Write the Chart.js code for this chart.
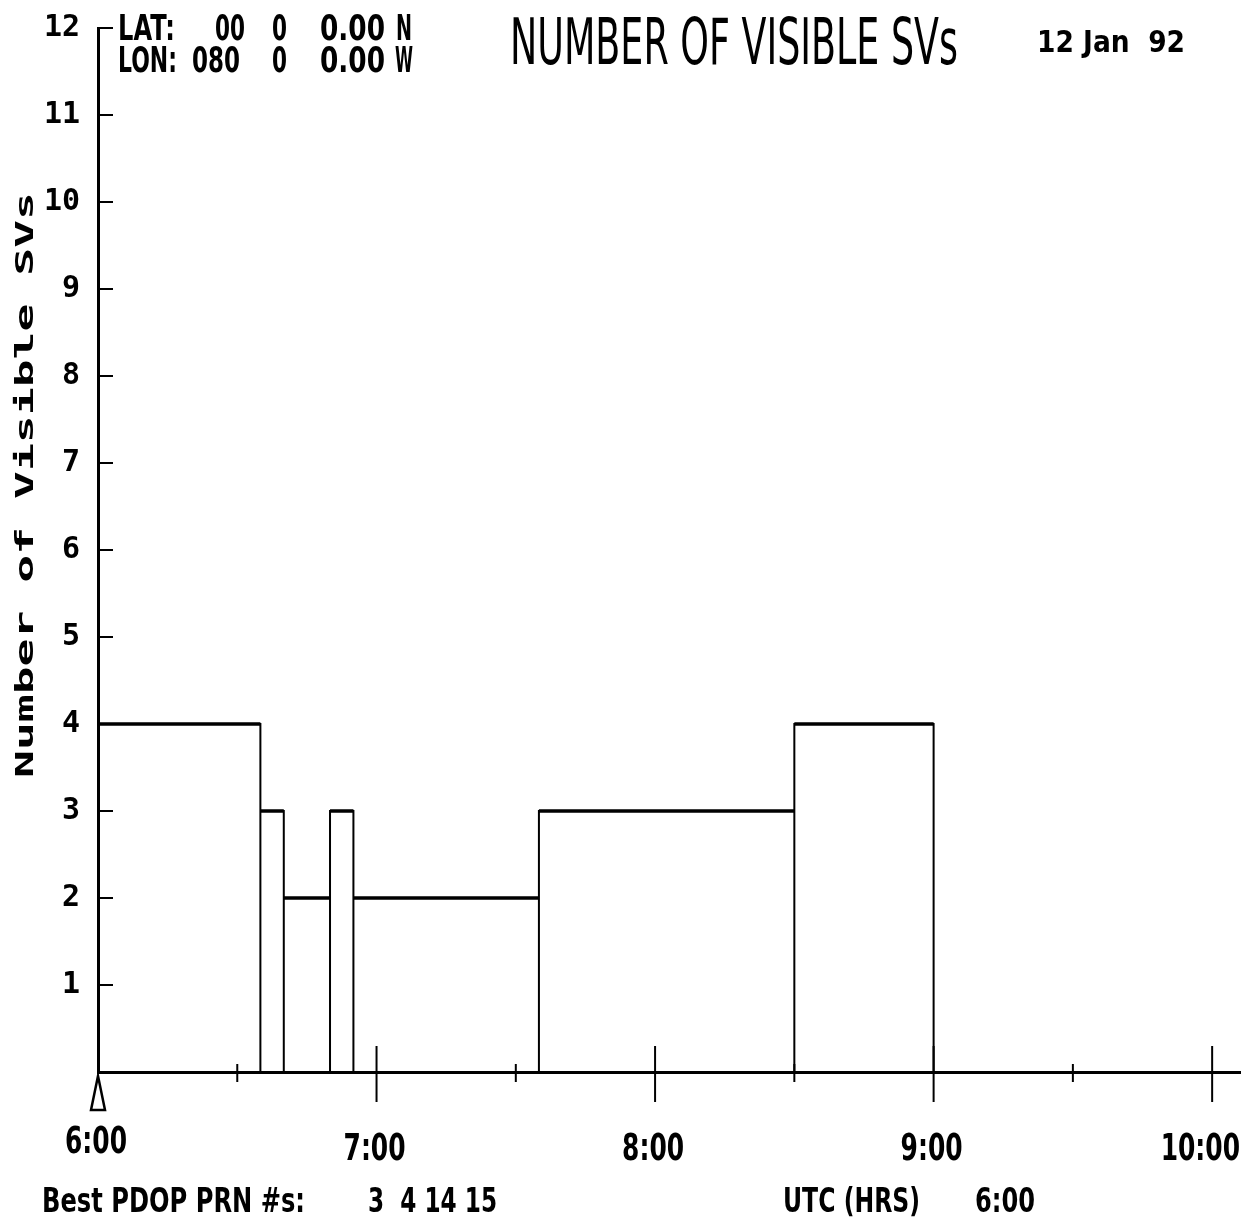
<!DOCTYPE html>
<html>
<head>
<meta charset="utf-8">
<script src="https://cdn.jsdelivr.net/npm/chart.js@4.4.1/dist/chart.umd.min.js"></script>
<style>
  html, body { margin: 0; padding: 0; background: #fff; }
  #wrap { width: 1245px; height: 1222px; position: relative; }
</style>
</head>
<body>
<div id="wrap"><canvas id="myChart"></canvas></div>
<script>
// start of each interval (UTC hours) and number of SVs visible from that time on
var changeTimes = [6.0, 6.583, 6.667, 6.833, 6.917, 7.583, 8.5, 9.0];
var svCount = [4, 3, 2, 3, 2, 3, 4, 0];
var endTime = 10.0;

var hourTicks = [6, 6.5, 7, 7.5, 8, 8.5, 9, 9.5, 10];
var countTicks = [1, 2, 3, 4, 5, 6, 7, 8, 9, 10, 11, 12];
var bestPrns = [3, 4, 14, 15];

var SANS = '"DejaVu Sans", "Liberation Sans", sans-serif';
var MONO = '"DejaVu Sans Mono", "Liberation Mono", monospace';

function fmtHour(h) {
  var hh = Math.floor(h);
  var mm = Math.round((h - hh) * 60);
  return hh + ':' + (mm < 10 ? '0' : '') + mm;
}

// each interval drawn as a box down to the baseline
var outline = [];
var tops = [];
for (var i = 0; i < changeTimes.length; i++) {
  var s = changeTimes[i];
  var e = i + 1 < changeTimes.length ? changeTimes[i + 1] : endTime;
  var v = svCount[i];
  if (v === 0) continue;
  outline.push({x: s, y: 0}, {x: s, y: v}, {x: e, y: v}, {x: e, y: 0});
  tops.push({x: s, y: v}, {x: e, y: v}, {x: e, y: null});
}

// draw text squeezed to a given width (the plotter font is very narrow)
function fitText(ctx, str, x, y, w, font) {
  ctx.save();
  ctx.font = font;
  var m = ctx.measureText(str).width;
  ctx.translate(x, y);
  ctx.scale(w / m, 1);
  ctx.textAlign = 'left';
  ctx.textBaseline = 'middle';
  ctx.fillText(str, 0, 0);
  ctx.restore();
}

function squeezeText(ctx, str, cx, y, k, font, maxRight) {
  ctx.save();
  ctx.font = font;
  var half = ctx.measureText(str).width * k / 2;
  if (maxRight && cx + half > maxRight) cx = maxRight - half;
  ctx.translate(cx, y);
  ctx.scale(k, 1);
  ctx.textAlign = 'center';
  ctx.textBaseline = 'middle';
  ctx.fillText(str, 0, 0);
  ctx.restore();
}

var decor = {
  id: 'decor',
  afterDraw: function(chart) {
    var ctx = chart.ctx;
    var xs = chart.scales.x, ys = chart.scales.y;
    var x0 = xs.getPixelForValue(6);
    var y0 = ys.getPixelForValue(0);
    ctx.save();
    ctx.strokeStyle = '#000';
    ctx.fillStyle = '#000';
    ctx.lineWidth = 2;

    // ticks across the time axis, with hour labels
    var lf = 'bold 38px ' + SANS;
    ctx.font = lf;
    var k = 62 / ctx.measureText('6:00').width;
    xs.ticks.forEach(function(t) {
      var h = t.value;
      var px = xs.getPixelForValue(h);
      var major = h % 1 === 0;
      if (h !== 6) {
        ctx.beginPath();
        ctx.moveTo(px, y0 - (major ? 26 : 8));
        ctx.lineTo(px, y0 + (major ? 30 : 10));
        ctx.stroke();
      }
      if (major) {
        squeezeText(ctx, fmtHour(h), px - 2, h === 6 ? 1143 : 1150, k, lf, 1240);
      }
    });
    // ticks inside the count axis
    countTicks.forEach(function(c) {
      var py = ys.getPixelForValue(c);
      ctx.beginPath();
      ctx.moveTo(x0, py);
      ctx.lineTo(x0 + 15, py);
      ctx.stroke();
    });
    // start marker
    ctx.lineWidth = 2.5;
    ctx.beginPath();
    ctx.moveTo(x0, y0 + 4);
    ctx.lineTo(x0 - 7, y0 + 38);
    ctx.lineTo(x0 + 7, y0 + 38);
    ctx.closePath();
    ctx.stroke();

    // header
    var f = 'bold 36px ' + SANS;
    [['LAT:', 118, 57], ['00', 215, 30], ['0', 272, 15], ['0.00', 320, 65], ['N', 396, 16]].forEach(function(p) {
      fitText(ctx, p[0], p[1], 31, p[2], f);
    });
    [['LON:', 118, 59], ['080', 192, 48], ['0', 272, 15], ['0.00', 320, 65], ['W', 395, 18]].forEach(function(p) {
      fitText(ctx, p[0], p[1], 63, p[2], f);
    });
    fitText(ctx, 'NUMBER OF VISIBLE SVs', 510, 47, 448, '64px ' + SANS);
    fitText(ctx, '12 Jan  92', 1037, 44, 148, 'bold 30px ' + SANS);

    // rotated axis title
    ctx.save();
    ctx.translate(27, 485);
    ctx.rotate(-Math.PI / 2);
    fitText(ctx, 'Number of Visible SVs', -293, 0, 586, 'bold 24px ' + MONO);
    ctx.restore();

    // footer
    var ff = 'bold 34px ' + SANS;
    fitText(ctx, 'Best PDOP PRN #s:', 42, 1203, 263, ff);
    fitText(ctx, bestPrns.slice(0, 2).join('  ') + ' ' + bestPrns.slice(2).join(' '), 368, 1203, 129, ff);
    fitText(ctx, 'UTC (HRS)', 783, 1203, 137, ff);
    fitText(ctx, fmtHour(changeTimes[0]), 975, 1203, 60, ff);
    ctx.restore();
  }
};

var ctx = document.getElementById('myChart');

var myChart = new Chart(ctx, {
  type: 'scatter',
  data: {
    datasets: [{
      data: outline,
      showLine: true,
      borderColor: '#000',
      borderWidth: 2,
      pointRadius: 0,
      tension: 0
    }, {
      data: tops,
      showLine: true,
      spanGaps: false,
      borderColor: '#000',
      borderWidth: 3.5,
      pointRadius: 0,
      tension: 0
    }]
  },
  options: {
    responsive: true,
    maintainAspectRatio: false,
    animation: false,
    layout: { padding: { top: 28, right: 5, left: 0, bottom: 0 } },
    plugins: {
      legend: { display: false },
      tooltip: { enabled: false },
      title: { display: false }
    },
    scales: {
      x: {
        type: 'linear',
        min: 6,
        max: 10.1,
        afterBuildTicks: function(s) { s.ticks = hourTicks.map(function(v) { return {value: v}; }); },
        afterFit: function(s) { s.height = 150; s.paddingLeft = 0; s.paddingRight = 0; },
        grid: { display: false, drawTicks: false },
        border: { color: '#000', width: 3 },
        ticks: { display: false }
      },
      y: {
        min: 0,
        max: 12,
        afterBuildTicks: function(s) { s.ticks = countTicks.map(function(v) { return {value: v}; }); },
        afterFit: function(s) { s.width = 98; s.paddingTop = 0; s.paddingBottom = 0; },
        grid: { display: false, drawTicks: false },
        border: { color: '#000', width: 3 },
        ticks: {
          padding: 18,
          color: '#000',
          font: { family: MONO, size: 30, weight: 'bold' }
        }
      }
    }
  },
  plugins: [decor]
});
</script>
</body>
</html>
